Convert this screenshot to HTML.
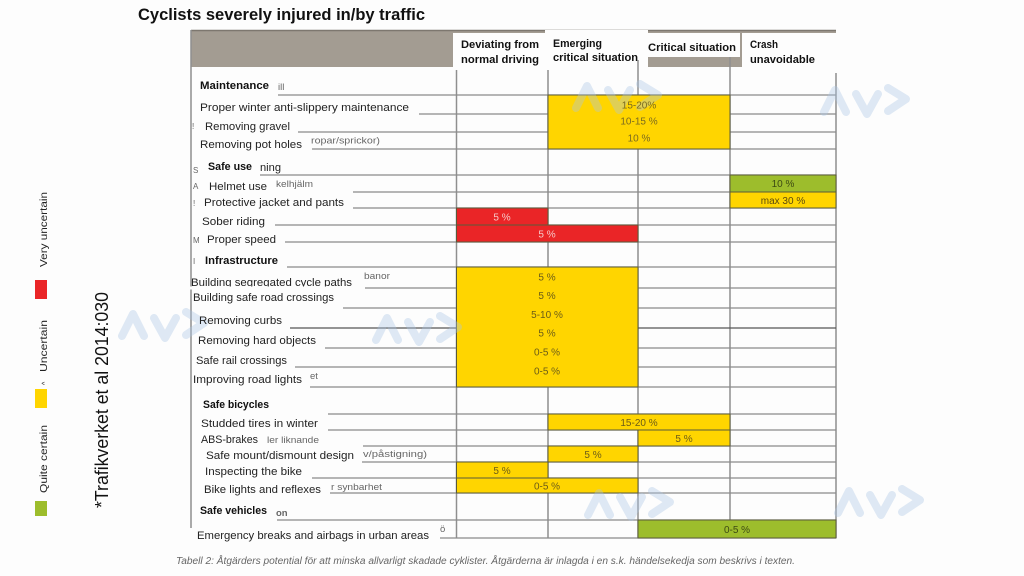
<!DOCTYPE html>
<html><head><meta charset="utf-8"><style>
html,body{margin:0;padding:0;background:#fdfdfd;}
svg{display:block;}
text{font-family:"Liberation Sans",Arial,sans-serif;}
.l{font-size:11px;fill:#222;}
.b{font-size:11px;fill:#111;font-weight:bold;}
.g{font-size:9.5px;fill:#666;}
.h{font-size:11px;fill:#111;font-weight:bold;}
</style></head><body>
<svg width="1024" height="576" viewBox="0 0 1024 576" xmlns="http://www.w3.org/2000/svg">
<rect x="0" y="0" width="1024" height="576" fill="#fdfdfd"/>

<!-- Title -->
<text x="138" y="20" font-size="17" font-weight="bold" fill="#111" textLength="287" lengthAdjust="spacingAndGlyphs">Cyclists severely injured in/by traffic</text>

<!-- Header gray band -->
<rect x="191" y="30" width="645" height="37" fill="#a39c92"/>
<line x1="191" y1="30.5" x2="836" y2="30.5" stroke="#7d776f" stroke-width="1.5"/>
<!-- Header white boxes -->
<rect x="453" y="33" width="95" height="40" fill="#fdfdfd"/>
<rect x="545" y="30" width="103" height="43" fill="#fdfdfd"/>
<rect x="645" y="33" width="95" height="24" fill="#fdfdfd"/>
<rect x="742" y="33" width="96" height="40" fill="#fdfdfd"/>
<rect x="191" y="67" width="262" height="6" fill="#fdfdfd"/>

<text class="h" x="461" y="48" textLength="78" lengthAdjust="spacingAndGlyphs">Deviating from</text>
<text class="h" x="461" y="63" textLength="78" lengthAdjust="spacingAndGlyphs">normal driving</text>
<text class="h" x="553" y="47" textLength="49" lengthAdjust="spacingAndGlyphs">Emerging</text>
<text class="h" x="553" y="61" textLength="85" lengthAdjust="spacingAndGlyphs">critical situation</text>
<text class="h" x="648" y="51" textLength="88" lengthAdjust="spacingAndGlyphs">Critical situation</text>
<text class="h" x="750" y="48" textLength="28" lengthAdjust="spacingAndGlyphs">Crash</text>
<text class="h" x="750" y="63" textLength="65" lengthAdjust="spacingAndGlyphs">unavoidable</text>

<!-- Table borders -->
<g stroke="#8f8f8f" stroke-width="1.5" fill="none">
<line x1="191" y1="30" x2="191" y2="528"/>
<line x1="836" y1="73" x2="836" y2="538"/>
<line x1="456.5" y1="70" x2="456.5" y2="538"/>
<line x1="548" y1="70" x2="548" y2="538"/>
<line x1="638" y1="60" x2="638" y2="538"/>
<line x1="730" y1="57" x2="730" y2="538"/>
</g>

<!-- Horizontal lines -->
<g stroke="#8a8a8a" stroke-width="1.3">
<line x1="278" y1="95" x2="836" y2="95"/>
<line x1="419" y1="114" x2="836" y2="114"/>
<line x1="298" y1="132" x2="836" y2="132"/>
<line x1="312" y1="149" x2="836" y2="149"/>
<line x1="260" y1="175" x2="836" y2="175"/>
<line x1="353" y1="192" x2="836" y2="192"/>
<line x1="353" y1="208" x2="836" y2="208"/>
<line x1="275" y1="225" x2="836" y2="225"/>
<line x1="285" y1="242" x2="836" y2="242"/>
<line x1="287" y1="267" x2="836" y2="267"/>
<line x1="365" y1="288" x2="836" y2="288"/>
<line x1="343" y1="308" x2="836" y2="308"/>
<line x1="290" y1="328" x2="836" y2="328" stroke="#555"/>
<line x1="325" y1="348" x2="836" y2="348"/>
<line x1="295" y1="367" x2="836" y2="367"/>
<line x1="310" y1="387" x2="836" y2="387"/>
<line x1="328" y1="414" x2="836" y2="414"/>
<line x1="328" y1="430" x2="836" y2="430"/>
<line x1="363" y1="446" x2="836" y2="446"/>
<line x1="362" y1="462" x2="836" y2="462"/>
<line x1="312" y1="478" x2="836" y2="478"/>
<line x1="330" y1="493" x2="836" y2="493"/>
<line x1="277" y1="520" x2="836" y2="520"/>
<line x1="440" y1="538" x2="836" y2="538"/>
</g>

<!-- Colored cells -->
<g stroke="#5a5a3a" stroke-width="1">
<rect x="548" y="95" width="182" height="54" fill="#ffd500"/>
<rect x="730" y="175" width="106" height="17" fill="#9dbd2c"/>
<rect x="730" y="192" width="106" height="16" fill="#ffd500"/>
<rect x="456.5" y="208" width="91.5" height="17" fill="#ea2527"/>
<rect x="456.5" y="225" width="181.5" height="17" fill="#ea2527"/>
<rect x="456.5" y="267" width="181.5" height="120" fill="#ffd500"/>
<rect x="548" y="414" width="182" height="16" fill="#ffd500"/>
<rect x="638" y="430" width="92" height="16" fill="#ffd500"/>
<rect x="548" y="446" width="90" height="16" fill="#ffd500"/>
<rect x="456.5" y="462" width="91.5" height="16" fill="#ffd500"/>
<rect x="456.5" y="478" width="181.5" height="15" fill="#ffd500"/>
<rect x="638" y="520" width="198" height="18" fill="#9dbd2c"/>
</g>

<!-- Watermarks -->
<g fill="none" stroke="#a9c5e4" stroke-width="8" stroke-linecap="round" stroke-linejoin="round" opacity="0.38">
<g transform="translate(574,80)"><path d="M2,28 L13,6 L24,28"/><path d="M34,10 L45,30 L56,10"/><path d="M66,4 L84,15 L66,27"/></g>
<g transform="translate(822,84)"><path d="M2,28 L13,6 L24,28"/><path d="M34,10 L45,30 L56,10"/><path d="M66,4 L84,15 L66,27"/></g>
<g transform="translate(374,312)"><path d="M2,28 L13,6 L24,28"/><path d="M34,10 L45,30 L56,10"/><path d="M66,4 L84,15 L66,27"/></g>
<g transform="translate(120,308)"><path d="M2,28 L13,6 L24,28"/><path d="M34,10 L45,30 L56,10"/><path d="M66,4 L84,15 L66,27"/></g>
<g transform="translate(586,487)"><path d="M2,28 L13,6 L24,28"/><path d="M34,10 L45,30 L56,10"/><path d="M66,4 L84,15 L66,27"/></g>
<g transform="translate(836,485)"><path d="M2,28 L13,6 L24,28"/><path d="M34,10 L45,30 L56,10"/><path d="M66,4 L84,15 L66,27"/></g>
</g>

<!-- Cell values -->
<g font-size="10" text-anchor="middle">
<text x="639" y="108.5" fill="#7a6a20">15-20%</text>
<text x="639" y="124.5" fill="#7a6a20">10-15 %</text>
<text x="639" y="141.5" fill="#7a6a20">10 %</text>
<text x="783" y="187" fill="#3d4a14">10 %</text>
<text x="783" y="204" fill="#5a4a10">max 30 %</text>
<text x="502" y="220.5" fill="#f6c8c8">5 %</text>
<text x="547" y="237.5" fill="#f6c8c8">5 %</text>
<text x="547" y="280.5" fill="#6b5c18">5 %</text>
<text x="547" y="299" fill="#6b5c18">5 %</text>
<text x="547" y="318" fill="#6b5c18">5-10 %</text>
<text x="547" y="336.5" fill="#6b5c18">5 %</text>
<text x="547" y="355.5" fill="#6b5c18">0-5 %</text>
<text x="547" y="374.5" fill="#6b5c18">0-5 %</text>
<text x="639" y="426" fill="#6b5c18">15-20 %</text>
<text x="684" y="442" fill="#6b5c18">5 %</text>
<text x="593" y="458" fill="#6b5c18">5 %</text>
<text x="502" y="474" fill="#6b5c18">5 %</text>
<text x="547" y="489.5" fill="#6b5c18">0-5 %</text>
<text x="737" y="533" fill="#3d4a14">0-5 %</text>
</g>

<!-- Row labels -->
<text class="b" x="200" y="89" textLength="69" lengthAdjust="spacingAndGlyphs">Maintenance</text>
<text class="g" x="278" y="90" fill="#444">ill</text>
<text class="l" x="200" y="111" textLength="209" lengthAdjust="spacingAndGlyphs">Proper winter anti-slippery maintenance</text>
<text class="l" x="205" y="130" textLength="85" lengthAdjust="spacingAndGlyphs">Removing gravel</text>
<text class="l" x="200" y="148" textLength="102" lengthAdjust="spacingAndGlyphs">Removing pot holes</text>
<text class="g" x="311" y="143.5" textLength="69" lengthAdjust="spacingAndGlyphs">ropar/sprickor)</text>

<text class="b" x="208" y="170" textLength="44" lengthAdjust="spacingAndGlyphs">Safe use</text>
<text class="l" x="260" y="171" textLength="21" lengthAdjust="spacingAndGlyphs" fill="#444">ning</text>
<text class="l" x="209" y="190" textLength="58" lengthAdjust="spacingAndGlyphs">Helmet use</text>
<text class="g" x="276" y="187" textLength="37" lengthAdjust="spacingAndGlyphs">kelhjälm</text>
<text class="l" x="204" y="206" textLength="140" lengthAdjust="spacingAndGlyphs">Protective jacket and pants</text>
<text class="l" x="202" y="225" textLength="63" lengthAdjust="spacingAndGlyphs">Sober riding</text>
<text class="l" x="207" y="243" textLength="69" lengthAdjust="spacingAndGlyphs">Proper speed</text>

<text class="b" x="205" y="264" textLength="73" lengthAdjust="spacingAndGlyphs">Infrastructure</text>
<text class="l" x="191" y="286" textLength="161" lengthAdjust="spacingAndGlyphs">Building segregated cycle paths</text>
<rect x="189" y="286.5" width="176" height="3" fill="#fdfdfd"/>
<text class="g" x="364" y="279" textLength="26" lengthAdjust="spacingAndGlyphs">banor</text>
<text class="l" x="193" y="301" textLength="141" lengthAdjust="spacingAndGlyphs">Building safe road crossings</text>
<text class="l" x="199" y="324" textLength="83" lengthAdjust="spacingAndGlyphs">Removing curbs</text>
<text class="l" x="198" y="344" textLength="118" lengthAdjust="spacingAndGlyphs">Removing hard objects</text>
<text class="l" x="196" y="364" textLength="91" lengthAdjust="spacingAndGlyphs">Safe rail crossings</text>
<text class="l" x="193" y="383" textLength="109" lengthAdjust="spacingAndGlyphs">Improving road lights</text>
<text class="g" x="310" y="379">et</text>

<text class="b" x="203" y="408" textLength="66" lengthAdjust="spacingAndGlyphs">Safe bicycles</text>
<text class="l" x="201" y="427" textLength="117" lengthAdjust="spacingAndGlyphs">Studded tires in winter</text>
<text class="l" x="201" y="443" textLength="57" lengthAdjust="spacingAndGlyphs">ABS-brakes</text>
<text class="g" x="267" y="443" textLength="52" lengthAdjust="spacingAndGlyphs">ler liknande</text>
<text class="l" x="206" y="459" textLength="148" lengthAdjust="spacingAndGlyphs">Safe mount/dismount design</text>
<text class="g" x="363" y="457" textLength="64" lengthAdjust="spacingAndGlyphs">v/påstigning)</text>
<text class="l" x="205" y="475" textLength="97" lengthAdjust="spacingAndGlyphs">Inspecting the bike</text>
<text class="l" x="204" y="493" textLength="117" lengthAdjust="spacingAndGlyphs">Bike lights and reflexes</text>
<text class="g" x="331" y="490" textLength="51" lengthAdjust="spacingAndGlyphs">r synbarhet</text>

<text class="b" x="200" y="514" textLength="67" lengthAdjust="spacingAndGlyphs">Safe vehicles</text>
<text class="g" x="276" y="516" font-weight="bold" fill="#444">on</text>
<text class="l" x="197" y="539" textLength="232" lengthAdjust="spacingAndGlyphs">Emergency breaks and airbags in urban areas</text>
<text class="g" x="440" y="532">ö</text>

<!-- small left edge fragments -->
<g font-size="8" fill="#666">
<text x="192" y="129">!</text>
<text x="193" y="173">S</text>
<text x="193" y="189">A</text>
<text x="193" y="206">!</text>
<text x="193" y="243">M</text>
<text x="193" y="264">I</text>
</g>

<!-- Caption -->
<text x="176" y="564" font-size="10" font-style="italic" fill="#666" textLength="619" lengthAdjust="spacingAndGlyphs">Tabell 2: Åtgärders potential för att minska allvarligt skadade cyklister. Åtgärderna är inlagda i en s.k. händelsekedja som beskrivs i texten.</text>

<!-- Legend -->
<rect x="35" y="280" width="12" height="19" fill="#ea2527"/>
<rect x="35" y="389" width="12" height="19" fill="#ffd500"/>
<rect x="35" y="501" width="12" height="15" fill="#9dbd2c"/>
<text transform="translate(47,267) rotate(-90)" font-size="10" fill="#222" textLength="75" lengthAdjust="spacingAndGlyphs">Very uncertain</text>
<text transform="translate(47,372) rotate(-90)" font-size="10" fill="#222" textLength="52" lengthAdjust="spacingAndGlyphs">Uncertain</text>
<text transform="translate(47,385) rotate(-90)" font-size="7" fill="#222">^</text>
<text transform="translate(47,493) rotate(-90)" font-size="10" fill="#222" textLength="68" lengthAdjust="spacingAndGlyphs">Quite certain</text>
<text transform="translate(108,508) rotate(-90)" font-size="18" fill="#111" textLength="216" lengthAdjust="spacingAndGlyphs">*Trafikverket et al 2014:030</text>
</svg>
</body></html>
